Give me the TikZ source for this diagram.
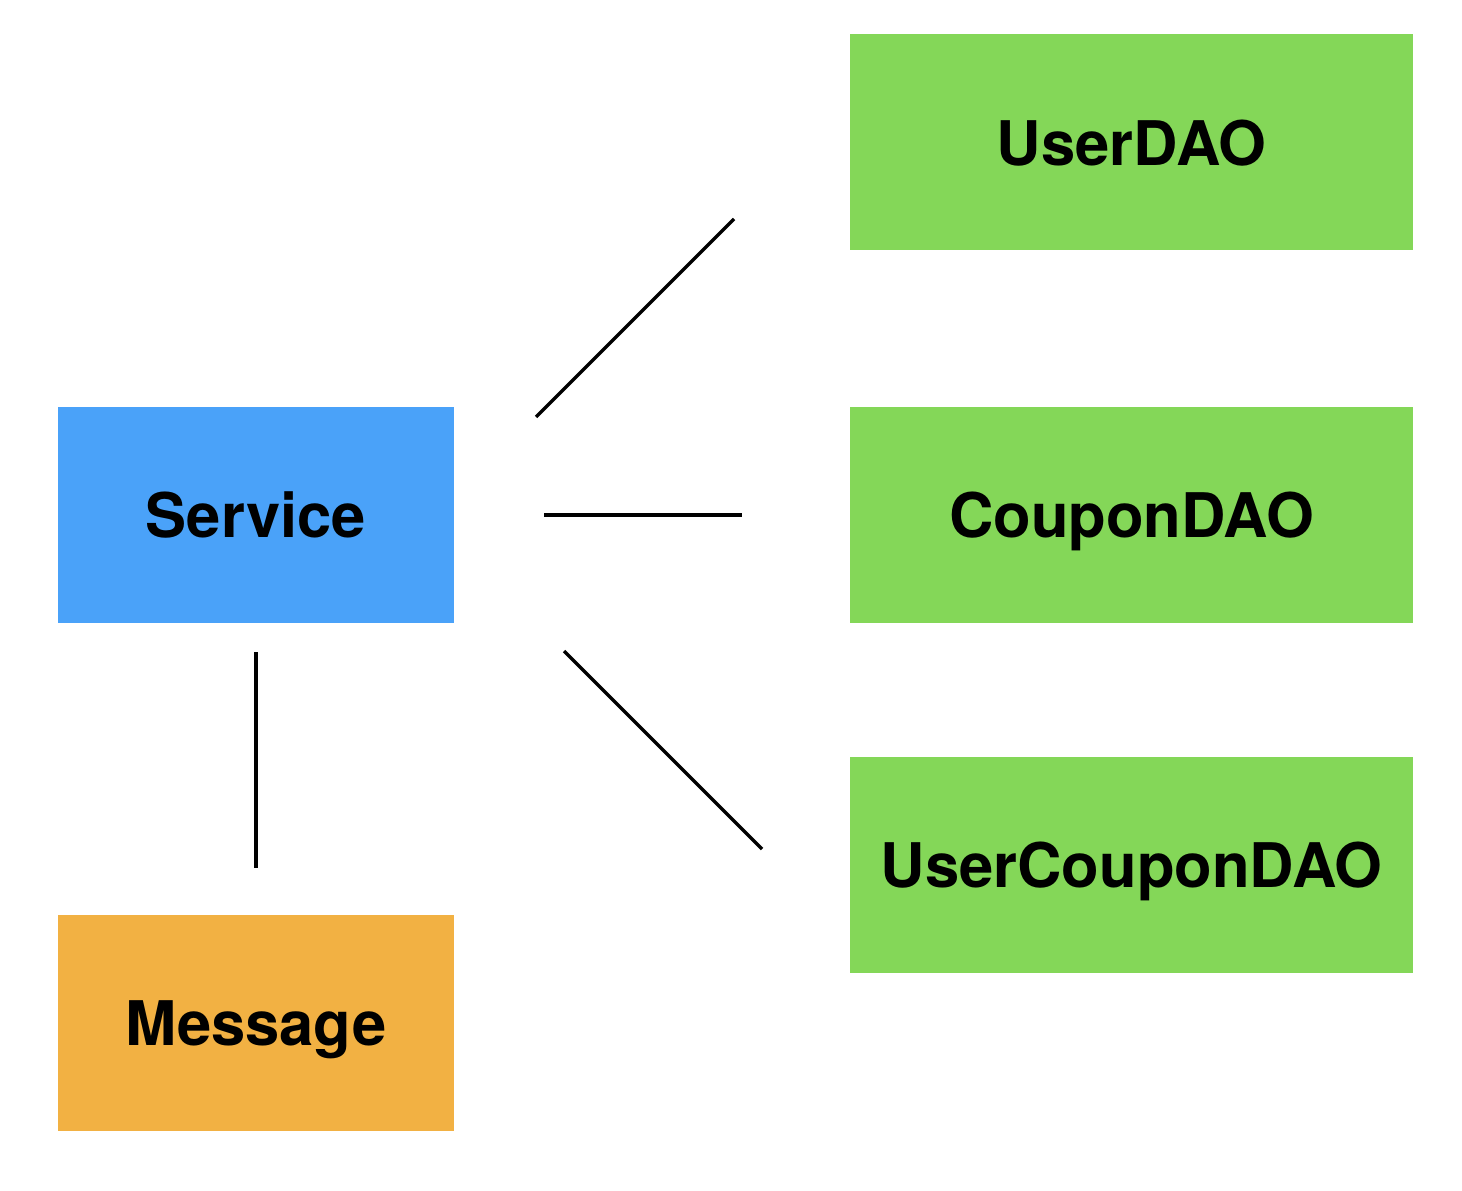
\documentclass[tikz,border=0pt]{standalone}
\usepackage{fontspec}
\setmainfont{TeX Gyre Heros}
\definecolor{svcblue}{HTML}{4AA2F9}
\definecolor{daogreen}{HTML}{84D758}
\definecolor{msgorange}{HTML}{F2B143}
\tikzset{
    box/.style={minimum height=2.16cm, inner sep=0pt, outer sep=0pt, text depth=0pt,
        font=\fontsize{17.5}{21}\selectfont\bfseries},
    smallbox/.style={box, minimum width=3.96cm},
    daobox/.style={box, minimum width=5.63cm, fill=daogreen},
    link/.style={line width=1pt}
}
\begin{document}
\begin{tikzpicture}
    \useasboundingbox (0,0) rectangle (14.62,-11.90);

    \node[smallbox, fill=svcblue] (service) at (2.56,-5.15) {Service};
    \node[smallbox, fill=msgorange] (message) at (2.56,-10.23) {Message};

    \node[daobox] (userdao) at (11.315,-1.425) {UserDAO};
    \node[daobox] (coupondao) at (11.315,-5.15) {CouponDAO};
    \node[daobox] (usercoupondao) at (11.315,-8.65) {UserCouponDAO};

    % free ends of the slanted links
    \coordinate (up1) at (5.36,-4.17);
    \coordinate (up2) at (7.34,-2.19);
    \coordinate (down1) at (5.64,-6.51);
    \coordinate (down2) at (7.62,-8.49);

    \draw[link] (up1) -- (up2);
    \draw[link, shorten <=0.90cm, shorten >=1.08cm] (service.east) -- (coupondao.west);
    \draw[link] (down1) -- (down2);
    \draw[link, shorten <=0.29cm, shorten >=0.47cm] (service.south) -- (message.north);
\end{tikzpicture}
\end{document}
